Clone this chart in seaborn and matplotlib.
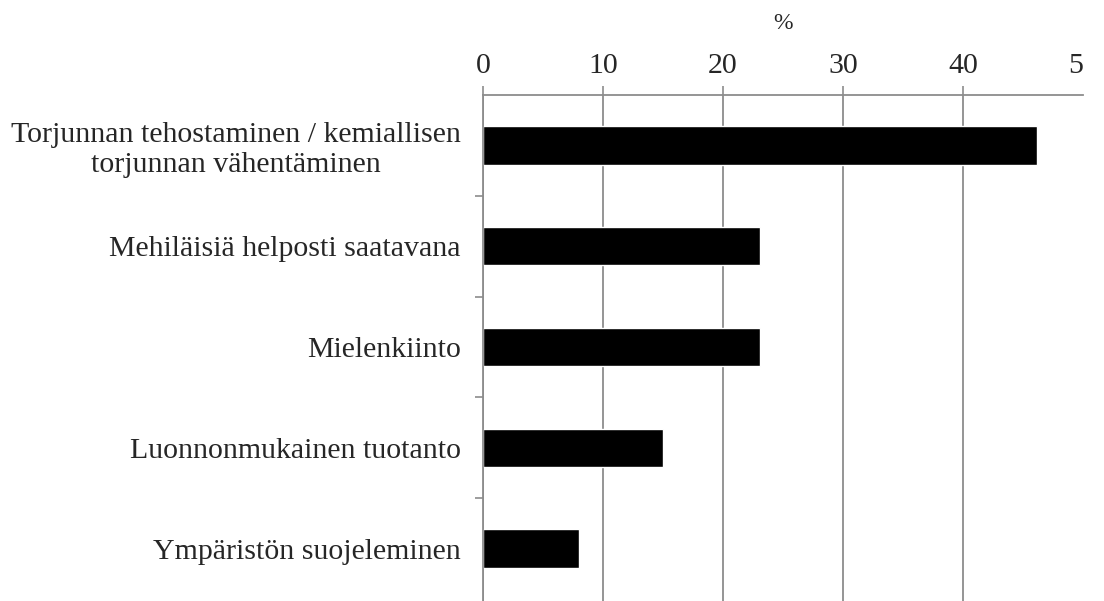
import matplotlib
matplotlib.use("Agg")
import matplotlib.pyplot as plt
import pandas as pd
import seaborn as sns
from matplotlib.ticker import FixedLocator

# Data
categories = [
    "Torjunnan tehostaminen / kemiallisen\ntorjunnan vähentäminen",
    "Mehiläisiä helposti saatavana",
    "Mielenkiinto",
    "Luonnonmukainen tuotanto",
    "Ympäristön suojeleminen",
]
percent = [46.2, 23.1, 23.1, 15.0, 8.0]
x_ticks = [0, 10, 20, 30, 40, 50]
x_tick_labels = ["0", "10", "20", "30", "40", "5"]  # last label is cut off in the original

df = pd.DataFrame({"category": categories, "percent": percent})

sns.set_theme(style="white")
plt.rcParams["font.family"] = ["Liberation Serif", "DejaVu Serif"]

grid_col = "#8c8c8c"

fig = plt.figure(figsize=(11.04, 6.01), dpi=100)
ax = fig.add_axes([483 / 1104, 0.0, 600 / 1104, 1 - 95 / 601])

sns.barplot(data=df, x="percent", y="category", orient="h", color="black",
            width=0.38, saturation=1, ax=ax)

ax.set_xlim(0, 50)
ax.set_ylim(len(categories) - 0.5 + 0.02, -0.5)

# x axis on top
ax.xaxis.set_ticks_position("top")
ax.xaxis.set_label_position("top")
ax.set_xticks(x_ticks)
ax.set_xticklabels(x_tick_labels)
ax.set_xlabel("%", fontsize=17, labelpad=17)
ax.set_ylabel("")
ax.tick_params(axis="x", which="major", direction="out", length=6.5, width=1.2,
               color=grid_col, labelsize=21.5, pad=5)

# category labels without ticks, minor ticks on band boundaries
ax.tick_params(axis="y", which="major", length=0, labelsize=21.5, pad=16)
ax.yaxis.set_minor_locator(FixedLocator([i + 0.5 for i in range(len(categories) - 1)]))
ax.tick_params(axis="y", which="minor", direction="out", length=6, width=1.2,
               color=grid_col, left=True)
for lab in ax.get_yticklabels():
    lab.set_multialignment("center")

ax.grid(axis="x", color=grid_col, linewidth=1.3)
ax.grid(axis="y", visible=False)
ax.set_axisbelow(True)

# the original is cropped right at 50: no gridline or tick there, label half cut
ax.xaxis.get_gridlines()[-1].set_visible(False)
ax.xaxis.get_major_ticks()[-1].tick2line.set_visible(False)
ax.get_xticklabels()[-1].set_horizontalalignment("right")

for side in ["right", "bottom"]:
    ax.spines[side].set_visible(False)
for side in ["top", "left"]:
    ax.spines[side].set_color(grid_col)
    ax.spines[side].set_linewidth(1.3)

fig.savefig("out.png", dpi=100)
